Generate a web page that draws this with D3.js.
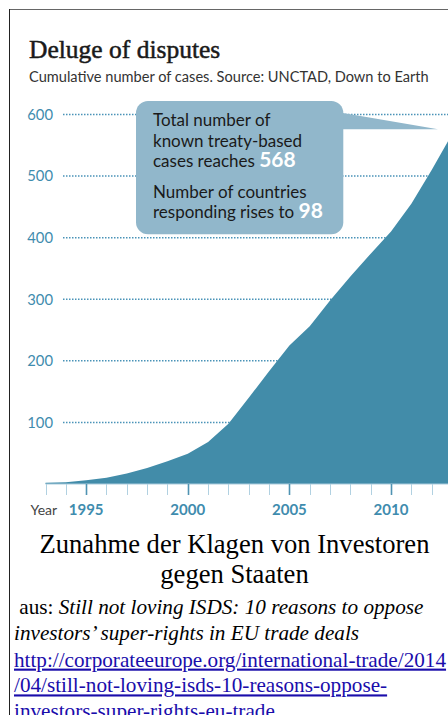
<!DOCTYPE html>
<html>
<head>
	<meta charset="utf-8">
	<title>Deluge of disputes</title>
</head>

<style>
	html, body { margin:0; padding:0; overflow:hidden; background:#fff; }
	svg { display:block; }
	.axis text { font-family:Lato, sans-serif; }
</style>

<body>
<script src="https://d3js.org/d3.v7.min.js" charset="utf-8"></script>
<svg width="480" height="720"></svg>
<script>

	// cumulative number of known treaty-based cases
	var years = [1993,1994,1995,1996,1997,1998,1999,2000,2001,2002,2003,2004,2005,2006,2007,2008,2009,2010,2011,2012,2013];
	var cases = [2,3,6,10,17,26,37,49,68,98,140,183,225,256,298,337,374,410,455,510,568];
	var yTicks = [100,200,300,400,500,600];
	var yearLabels = [1995,2000,2005,2010];
	var calloutLines = [
		["Total number of", ""],
		["known treaty-based", ""],
		["cases reaches ", "568"],
		["Number of countries", ""],
		["responding rises to ", "98"]
	];
	var captionTitle = ["Zunahme der Klagen von Investoren", "gegen Staaten"];
	var captionLines = [
		[" aus: ", "Still not loving ISDS: 10 reasons to oppose"],
		["", "investors\u2019 super-rights in EU trade deals"]
	];
	var linkLines = [
		"http://corporateeurope.org/international-trade/2014",
		"/04/still-not-loving-isds-10-reasons-oppose-",
		"investors-super-rights-eu-trade"
	];

	var svg = d3.select("svg");
	var width = +svg.attr("width");
	var height = +svg.attr("height");

	var x = d3.scaleLinear()
			  .domain([1993,2013])
			  .range([45.5,452]);

	var y = d3.scaleLinear()
			  .domain([0,600])
			  .range([484,114.5]);

	// frame
	svg.append("line")
	   .attr("x1",9).attr("x2",width)
	   .attr("y1",9.5).attr("y2",9.5)
	   .attr("stroke","#666");
	svg.append("line")
	   .attr("x1",9.5).attr("x2",9.5)
	   .attr("y1",9).attr("y2",height)
	   .attr("stroke","#222");

	// title
	svg.append("text")
	   .attr("x",29).attr("y",58)
	   .attr("font-family","'Liberation Serif', serif")
	   .attr("font-size",25.5)
	   .attr("fill","#1a1a1a")
	   .attr("stroke","#1a1a1a")
	   .attr("stroke-width",0.5)
	   .text("Deluge of disputes");

	svg.append("text")
	   .attr("x",29).attr("y",81.5)
	   .attr("font-family","Lato, sans-serif")
	   .attr("font-size",14.6)
	   .attr("fill","#333")
	   .text("Cumulative number of cases. Source: UNCTAD, Down to Earth");

	// dotted gridlines + labels
	var grid = svg.append("g").attr("class","axis axis--y");
	grid.selectAll("line")
		.data(yTicks)
		.enter()
		.append("line")
		.attr("x1",63).attr("x2",width)
		.attr("y1",function(d){ return y(d); })
		.attr("y2",function(d){ return y(d); })
		.attr("stroke","#4a93b8")
		.attr("stroke-width",1.5)
		.attr("stroke-dasharray","1.5,1.5");
	grid.selectAll("text")
		.data(yTicks)
		.enter()
		.append("text")
		.attr("x",53)
		.attr("y",function(d){ return y(d); })
		.attr("dy","0.36em")
		.attr("text-anchor","end")
		.attr("font-size",14.8)
		.attr("fill","#3f8cae")
		.text(function(d){ return d; });

	// area
	var data = years.map(function(yr,i){ return [yr,cases[i]]; });
	svg.append("path")
	   .datum(data)
	   .attr("fill","#428ca9")
	   .attr("d",d3.area()
				   .x(function(d){ return x(d[0]); })
				   .y0(y(0))
				   .y1(function(d){ return y(d[1]); }));

	// x axis
	var xAxis = svg.append("g").attr("class","axis axis--x");
	xAxis.append("line")
		 .attr("x1",x(1993)).attr("x2",width)
		 .attr("y1",y(0)).attr("y2",y(0))
		 .attr("stroke","#a9cbdc");
	xAxis.selectAll(".tick")
		 .data(years)
		 .enter()
		 .append("line")
		 .attr("class","tick")
		 .attr("x1",function(d){ return Math.round(x(d)) + 0.5; })
		 .attr("x2",function(d){ return Math.round(x(d)) + 0.5; })
		 .attr("y1",y(0)).attr("y2",y(0) + 11)
		 .attr("stroke",function(d){ return yearLabels.indexOf(d) >= 0 ? "#4f93b3" : "#b1d1e1"; })
		 .attr("stroke-width",function(d){ return yearLabels.indexOf(d) >= 0 ? 1.6 : 1; });
	xAxis.selectAll(".label")
		 .data(yearLabels)
		 .enter()
		 .append("text")
		 .attr("class","label")
		 .attr("x",function(d){ return x(d); })
		 .attr("y",514.5)
		 .attr("text-anchor","middle")
		 .attr("font-size",15)
		 .attr("font-weight","bold")
		 .attr("fill","#3f8cae")
		 .text(function(d){ return d; });
	xAxis.append("text")
		 .attr("x",30.5).attr("y",514.5)
		 .attr("font-size",14)
		 .attr("fill","#444")
		 .text("Year");

	// callout
	var callout = svg.append("g");
	callout.append("path")
		   .attr("fill","#91b7cb")
		   .attr("d","M340,112.5L438,129.3L340,129.3Z");
	callout.append("rect")
		   .attr("x",136).attr("y",101)
		   .attr("width",207.3).attr("height",133.3)
		   .attr("rx",12).attr("ry",12)
		   .attr("fill","#91b7cb");
	var lineY = [126,146.5,167,197.5,218];
	callout.selectAll("text")
		   .data(calloutLines)
		   .enter()
		   .append("text")
		   .attr("x",153)
		   .attr("y",function(d,i){ return lineY[i]; })
		   .attr("font-family","Lato, sans-serif")
		   .attr("font-size",17)
		   .attr("fill","#1a1a1a")
		   .each(function(d){
				var t = d3.select(this);
				t.append("tspan").text(d[0]);
				if (d[1]) {
					t.append("tspan")
					 .attr("font-size",21)
					 .attr("font-weight","bold")
					 .attr("fill","#fff")
					 .text(d[1]);
				}
		   });

	// caption under the picture
	var cap = svg.append("g")
				 .attr("font-family","'Liberation Serif', 'Times New Roman', serif");
	cap.selectAll(".title")
	   .data(captionTitle)
	   .enter()
	   .append("text")
	   .attr("class","title")
	   .attr("x",234.5)
	   .attr("y",function(d,i){ return 553 + i*29.7; })
	   .attr("text-anchor","middle")
	   .attr("font-size",26.6)
	   .attr("fill","#000")
	   .text(function(d){ return d; });

	cap.selectAll(".source")
	   .data(captionLines)
	   .enter()
	   .append("text")
	   .attr("class","source")
	   .attr("x",14)
	   .attr("y",function(d,i){ return 614 + i*25.8; })
	   .attr("font-size",21.2)
	   .attr("fill","#000")
	   .attr("xml:space","preserve")
	   .each(function(d){
			var t = d3.select(this);
			if (d[0]) t.append("tspan").text(d[0]);
			t.append("tspan").attr("font-style","italic").text(d[1]);
	   });

	cap.selectAll(".link")
	   .data(linkLines)
	   .enter()
	   .append("text")
	   .attr("class","link")
	   .attr("x",14)
	   .attr("y",function(d,i){ return 666.6 + i*25.8; })
	   .attr("font-size",21.2)
	   .attr("fill","#1a0dab")
	   .attr("text-decoration","underline")
	   .text(function(d){ return d; });

</script>
</body>
</html>
